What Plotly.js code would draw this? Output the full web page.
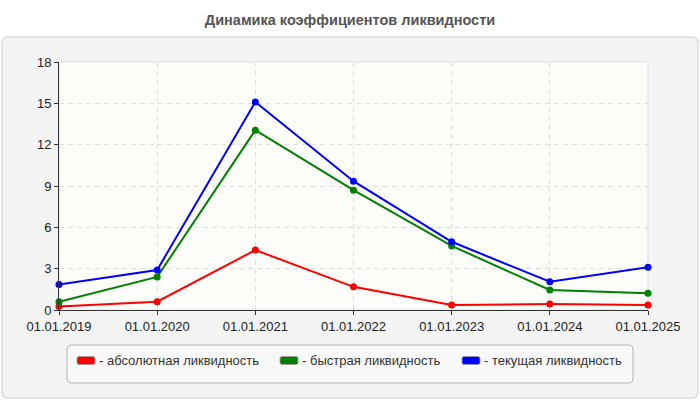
<!DOCTYPE html>
<html>
<head>
<meta charset="utf-8">
<script src="https://cdn.plot.ly/plotly-3.0.1.min.js"></script>
<style>
  html, body { margin: 0; padding: 0; background: #ffffff; }
  #plot { width: 700px; height: 400px; }
</style>
</head>
<body>
<div id="plot"></div>
<script>
// chart data
const dates = ['01.01.2019', '01.01.2020', '01.01.2021', '01.01.2022', '01.01.2023', '01.01.2024', '01.01.2025'];
const absLiquidity = [0.25, 0.6, 4.35, 1.68, 0.37, 0.43, 0.37];
const quickLiquidity = [0.6, 2.4, 13.05, 8.7, 4.65, 1.45, 1.22];
const currentLiquidity = [1.85, 2.9, 15.1, 9.35, 4.95, 2.05, 3.1];
const seriesNames = ['абсолютная ликвидность', 'быстрая ликвидность', 'текущая ликвидность'];
const seriesColors = ['#ff0000', '#008000', '#0000ff'];
const yTicks = [0, 3, 6, 9, 12, 15, 18];

// plot area in pixels
const W = 700, H = 400;
const M = { l: 59, r: 52, t: 62, b: 90 };
const plotW = W - M.l - M.r;
const plotH = H - M.t - M.b;
const FONT = 'Arial, Liberation Sans, sans-serif';

function px(x) { return (x - M.l) / plotW; }
function py(y) { return (H - M.b - y) / plotH; }

// rounded rectangle path in paper coords, given pixel box
function roundRect(x0, y0, x1, y1, r) {
  const rx = r / plotW, ry = r / plotH;
  const a = px(x0), b = px(x1), top = py(y0), bot = py(y1);
  return `M ${a + rx},${top} L ${b - rx},${top} Q ${b},${top} ${b},${top - ry} ` +
    `L ${b},${bot + ry} Q ${b},${bot} ${b - rx},${bot} L ${a + rx},${bot} ` +
    `Q ${a},${bot} ${a},${bot + ry} L ${a},${top - ry} Q ${a},${top} ${a + rx},${top} Z`;
}

const allSeries = [absLiquidity, quickLiquidity, currentLiquidity];

const data = allSeries.map((vals, i) => ({
  x: dates,
  y: vals,
  type: 'scatter',
  mode: 'lines+markers',
  name: seriesNames[i],
  line: { color: seriesColors[i], width: 2 },
  marker: { color: seriesColors[i], size: 7 },
  cliponaxis: false,
  hoverinfo: 'skip',
  showlegend: false,
}));

// legend drawn as swatches + text
const legendX = [77, 280, 462];
const legendY = 360.5;
const shapes = [
  // outer panel
  { type: 'path', xref: 'paper', yref: 'paper', path: roundRect(2, 37, 698, 398, 6),
    fillcolor: '#f4f4f4', line: { color: '#dcdcdc', width: 1.5 }, layer: 'below' },
  // plot area background + border
  { type: 'rect', xref: 'paper', yref: 'paper', x0: 0, x1: 1, y0: 0, y1: 1,
    fillcolor: '#fdfdf9', line: { color: '#dddddd', width: 1 }, layer: 'below' },
  // legend box
  { type: 'path', xref: 'paper', yref: 'paper', path: roundRect(67, 345, 633, 383, 4),
    fillcolor: '#f9f9f9', line: { color: '#b4b4b4', width: 1 }, layer: 'below' },
];
const annotations = [];
seriesNames.forEach((name, i) => {
  shapes.push({
    type: 'path', xref: 'paper', yref: 'paper',
    path: roundRect(legendX[i], legendY - 4, legendX[i] + 18, legendY + 4, 2),
    fillcolor: seriesColors[i], line: { color: '#999999', width: 0.8 },
  });
  annotations.push({
    xref: 'paper', yref: 'paper', x: px(legendX[i] + 20), y: py(legendY),
    xanchor: 'left', yanchor: 'middle', showarrow: false,
    text: '- ' + name,
    font: { family: FONT, size: 13, color: '#333333' },
  });
});

const layout = {
  width: W,
  height: H,
  margin: M,
  paper_bgcolor: '#ffffff',
  plot_bgcolor: '#fdfdf9',
  showlegend: false,
  hovermode: false,
  font: { family: FONT, size: 13, color: '#222222' },
  title: {
    text: '<b>Динамика коэффициентов ликвидности</b>',
    x: 0.5, xref: 'container', xanchor: 'center',
    y: 1 - 20 / H, yref: 'container', yanchor: 'middle',
    font: { family: FONT, size: 14.5, color: '#555555' },
  },
  xaxis: {
    type: 'category',
    range: [0, dates.length - 1],
    showgrid: true,
    gridcolor: '#e0e0e0',
    griddash: '5px,4px',
    gridwidth: 1,
    showline: true,
    linecolor: '#333333',
    linewidth: 1,
    ticks: 'outside',
    ticklen: 4,
    tickcolor: '#333333',
    tickfont: { size: 13, color: '#222222' },
    zeroline: false,
    fixedrange: true,
  },
  yaxis: {
    range: [0, 18],
    tickmode: 'array',
    tickvals: yTicks,
    ticktext: yTicks.map(String),
    showgrid: true,
    gridcolor: '#e0e0e0',
    griddash: '5px,4px',
    gridwidth: 1,
    showline: true,
    linecolor: '#333333',
    linewidth: 1,
    ticks: 'outside',
    ticklen: 4,
    tickcolor: '#333333',
    tickfont: { size: 13, color: '#222222' },
    zeroline: false,
    fixedrange: true,
  },
  shapes: shapes,
  annotations: annotations,
};

Plotly.newPlot('plot', data, layout, { displayModeBar: false, staticPlot: true });
</script>
</body>
</html>
